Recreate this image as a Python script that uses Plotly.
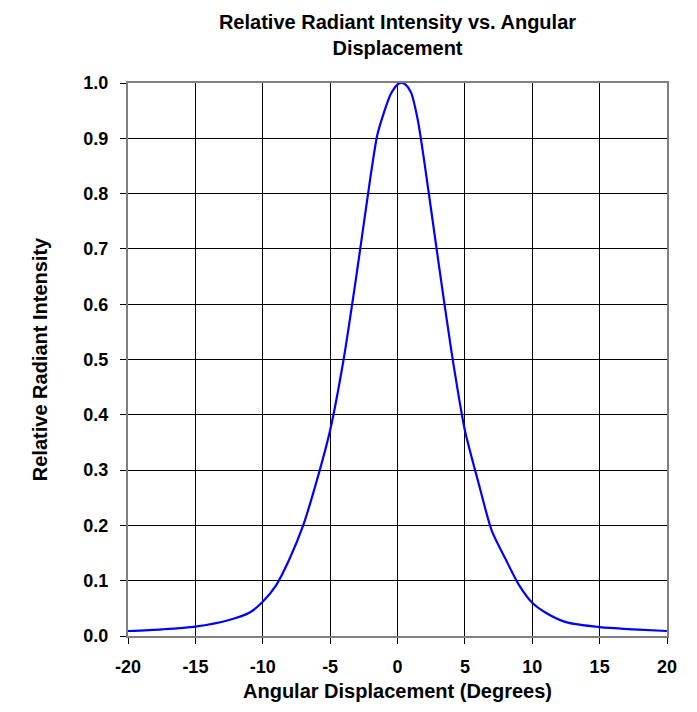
import plotly.graph_objects as go

angle_deg = [-20, -17.5, -15, -12.5, -11, -10, -9, -8, -7, -6, -5, -4, -3, -2, -1.5, -1, -0.5, 0, 0.3,
             0.6, 1, 1.5, 2, 3, 4, 5, 6, 7, 8, 9, 10, 11, 12.5, 15, 17.5, 20]
intensity = [0.009, 0.012, 0.017, 0.029, 0.042, 0.062, 0.092, 0.14, 0.20, 0.28, 0.372, 0.50, 0.66, 0.831, 0.906, 0.947, 0.98, 0.997, 1.0,
             0.997, 0.983, 0.934, 0.856, 0.683, 0.515, 0.372, 0.278, 0.19, 0.14, 0.093, 0.060, 0.042, 0.025, 0.016, 0.012, 0.009]
x_ticks = [-20, -15, -10, -5, 0, 5, 10, 15, 20]
y_ticks = [0.0, 0.1, 0.2, 0.3, 0.4, 0.5, 0.6, 0.7, 0.8, 0.9, 1.0]

font_family = "Liberation Sans, Arial, sans-serif"

fig = go.Figure()
fig.add_trace(go.Scatter(x=angle_deg, y=intensity, mode="lines",
                         line=dict(color="#0000FF", width=2.2, shape="spline", smoothing=0.7),
                         showlegend=False, hoverinfo="skip"))

fig.update_layout(
    width=689, height=704,
    margin=dict(l=120, r=30, t=75, b=76),
    paper_bgcolor="white", plot_bgcolor="white",
    title=dict(text="<b>Relative Radiant Intensity vs. Angular<br>Displacement</b>",
               xref="paper", x=0.5, xanchor="center", yref="container", y=0.970, yanchor="middle",
               font=dict(family=font_family, size=20, color="black")),
    font=dict(family=font_family, color="black"),
)
fig.update_xaxes(range=[-20, 20], tickvals=x_ticks, ticktext=[str(v) for v in x_ticks],
                 showgrid=True, gridcolor="black", gridwidth=1,
                 showline=True, linecolor="#808080", linewidth=2, mirror=True,
                 ticks="outside", ticklen=6, tickcolor="black", zeroline=False,
                 ticklabelstandoff=7,
                 tickfont=dict(family=font_family, size=18, color="black", weight="bold"),
                 title=dict(text="<b>Angular Displacement (Degrees)</b>", standoff=8,
                            font=dict(family=font_family, size=20, color="black")))
fig.update_yaxes(range=[0, 1], tickvals=y_ticks, ticktext=[f"{v:.1f}" for v in y_ticks],
                 showgrid=True, gridcolor="black", gridwidth=1,
                 showline=True, linecolor="#808080", linewidth=2, mirror=True,
                 ticks="outside", ticklen=6, tickcolor="black", zeroline=False,
                 ticklabelstandoff=8,
                 tickfont=dict(family=font_family, size=18, color="black", weight="bold"),
                 title=dict(text="<b>Relative Radiant Intensity</b>", standoff=30,
                            font=dict(family=font_family, size=20, color="black")))

fig.write_html("out.html")
